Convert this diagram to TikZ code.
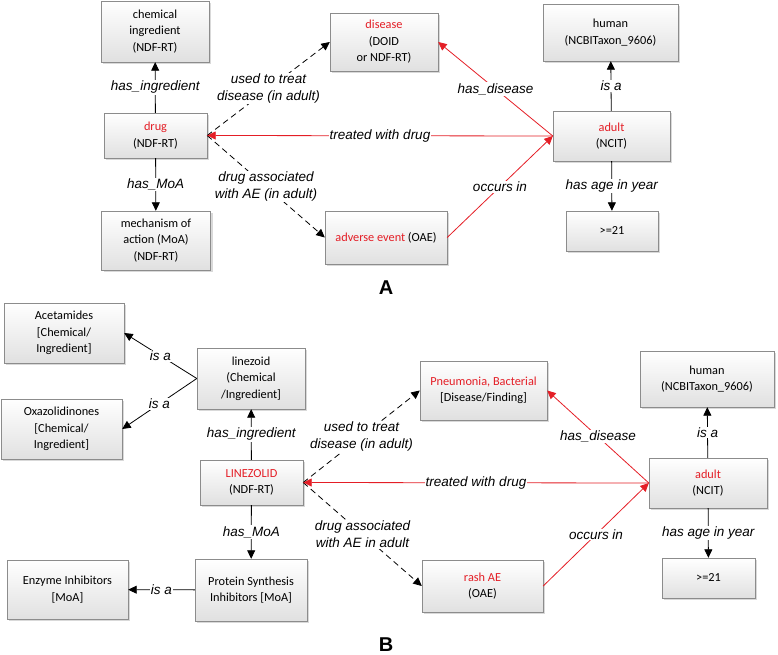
\documentclass[tikz,border=0pt]{standalone}
\usepackage{fontspec}
\setmainfont{Carlito}
\newfontfamily\relfont{Liberation Sans}
\usetikzlibrary{arrows.meta,shadows}
\definecolor{termred}{RGB}{228,30,38}
\definecolor{boxline}{RGB}{140,140,140}
\tikzset{%
  box/.style     = {shape=rectangle, draw=boxline, align=center,%
                    inner sep=2pt, top color=white, bottom color=black!12,%
                    drop shadow={shadow xshift=2pt,shadow yshift=-2pt,opacity=0.3},%
                    font=\fontsize{12.3}{16.5}\selectfont},%
  rel/.style     = {fill=white, inner sep=1pt, align=center,%
                    font=\relfont\itshape\fontsize{13.5}{16.7}\selectfont},%
  link/.style    = {line width=0.8pt, -{Triangle[length=8.5pt,width=8pt]}},%
  maybe/.style   = {link, dash pattern=on 6pt off 4pt},%
  redlink/.style = {link, draw=termred},%
  panel/.style   = {font=\relfont\bfseries\fontsize{20}{24}\selectfont}%
}
\newcommand{\red}[1]{\textcolor{termred}{#1}}

\begin{document}
\begin{tikzpicture}[x=1pt,y=-1pt]
	\useasboundingbox (0,0) rectangle (778,655);
	% A
	\node [box, minimum width=108, minimum height=61] (chemA) at (155,31.5) {chemical\\ingredient\\(NDF-RT)};
	\node [box, minimum width=103, minimum height=45] (drugA) at (155.5,135.5) {\red{drug}\\(NDF-RT)};
	\node [box, minimum width=109, minimum height=59] (moaA) at (156,240.5) {mechanism of\\action (MoA)\\(NDF-RT)};
	\node [box, minimum width=108, minimum height=58] (disA) at (384,42) {\red{disease}\\(DOID\\or NDF-RT)};
	\node [box, minimum width=122, minimum height=53] (aeA) at (386,237.5) {\red{adverse event} (OAE)};
	\node [box, minimum width=135, minimum height=57] (humanA) at (610.5,32.5) {human\\(NCBITaxon\_9606)};
	\node [box, minimum width=117, minimum height=50] (adultA) at (611.5,136) {\red{adult}\\(NCIT)};
	\node [box, minimum width=92, minimum height=40] (ageA) at (612,231) {>=21};
	\node [panel] (panelA) at (386,288) {A};
	\draw [link] (drugA) -- node [rel] {has\_ingredient} (chemA);
	\draw [link] (drugA) -- node [rel] {has\_MoA} (moaA);
	\draw [maybe] (drugA.east) -- node [rel] {used to treat\\disease (in adult)} (disA.west);
	\draw [maybe] (drugA.east) -- node [rel] {drug associated\\with AE (in adult)} (aeA.west);
	\draw [redlink] (adultA.west) -- node [rel] {treated with drug} (drugA.east);
	\draw [redlink] (adultA.west) -- node [rel] {has\_disease} (disA.east);
	\draw [redlink] (aeA.east) -- node [rel] {occurs in} (adultA.west);
	\draw [link] (adultA) -- node [rel] {is a} (humanA);
	\draw [link] (adultA) -- node [rel] {has age in year} (ageA);
	% B
	\node [box, minimum width=120, minimum height=60] (acetB) at (64,333) {Acetamides\\{[}Chemical/\\Ingredient{]}};
	\node [box, minimum width=121, minimum height=60] (oxaB) at (61.5,429) {Oxazolidinones\\{[}Chemical/\\Ingredient{]}};
	\node [box, minimum width=108, minimum height=61] (lineB) at (251,378.5) {linezoid\\(Chemical\\/Ingredient{]}};
	\node [box, minimum width=103, minimum height=45] (drugB) at (251.5,482.5) {\red{LINEZOLID}\\(NDF-RT)};
	\node [box, minimum width=112, minimum height=62] (psiB) at (251,590) {Protein Synthesis\\Inhibitors {[}MoA{]}};
	\node [box, minimum width=121, minimum height=59] (enzB) at (67.5,589.5) {Enzyme Inhibitors\\{[}MoA{]}};
	\node [box, minimum width=127, minimum height=59] (disB) at (483.5,390.5) {\red{Pneumonia, Bacterial}\\{[}Disease/Finding{]}};
	\node [box, minimum width=121, minimum height=52] (aeB) at (482.5,586) {\red{rash AE}\\(OAE)};
	\node [box, minimum width=134, minimum height=56] (humanB) at (707,379) {human\\(NCBITaxon\_9606)};
	\node [box, minimum width=118, minimum height=50] (adultB) at (708,483) {\red{adult}\\(NCIT)};
	\node [box, minimum width=93, minimum height=40] (ageB) at (708.5,578) {>=21};
	\node [panel] (panelB) at (386,645) {B};
	\draw [link] (lineB.west) -- node [rel] {is a} (acetB.east);
	\draw [link] (lineB.west) -- node [rel] {is a} (oxaB.east);
	\draw [link] (drugB) -- node [rel] {has\_ingredient} (lineB);
	\draw [link] (drugB) -- node [rel] {has\_MoA} (psiB);
	\draw [link] (psiB) -- node [rel] {is a} (enzB);
	\draw [maybe] (drugB.east) -- node [rel] {used to treat\\disease (in adult)} (disB.west);
	\draw [maybe] (drugB.east) -- node [rel] {drug associated\\with AE in adult} (aeB.west);
	\draw [redlink] (adultB.west) -- node [rel] {treated with drug} (drugB.east);
	\draw [redlink] (adultB.west) -- node [rel] {has\_disease} (disB.east);
	\draw [redlink] (aeB.east) -- node [rel] {occurs in} (adultB.west);
	\draw [link] (adultB) -- node [rel] {is a} (humanB);
	\draw [link] (adultB) -- node [rel] {has age in year} (ageB);
\end{tikzpicture}
\end{document}
